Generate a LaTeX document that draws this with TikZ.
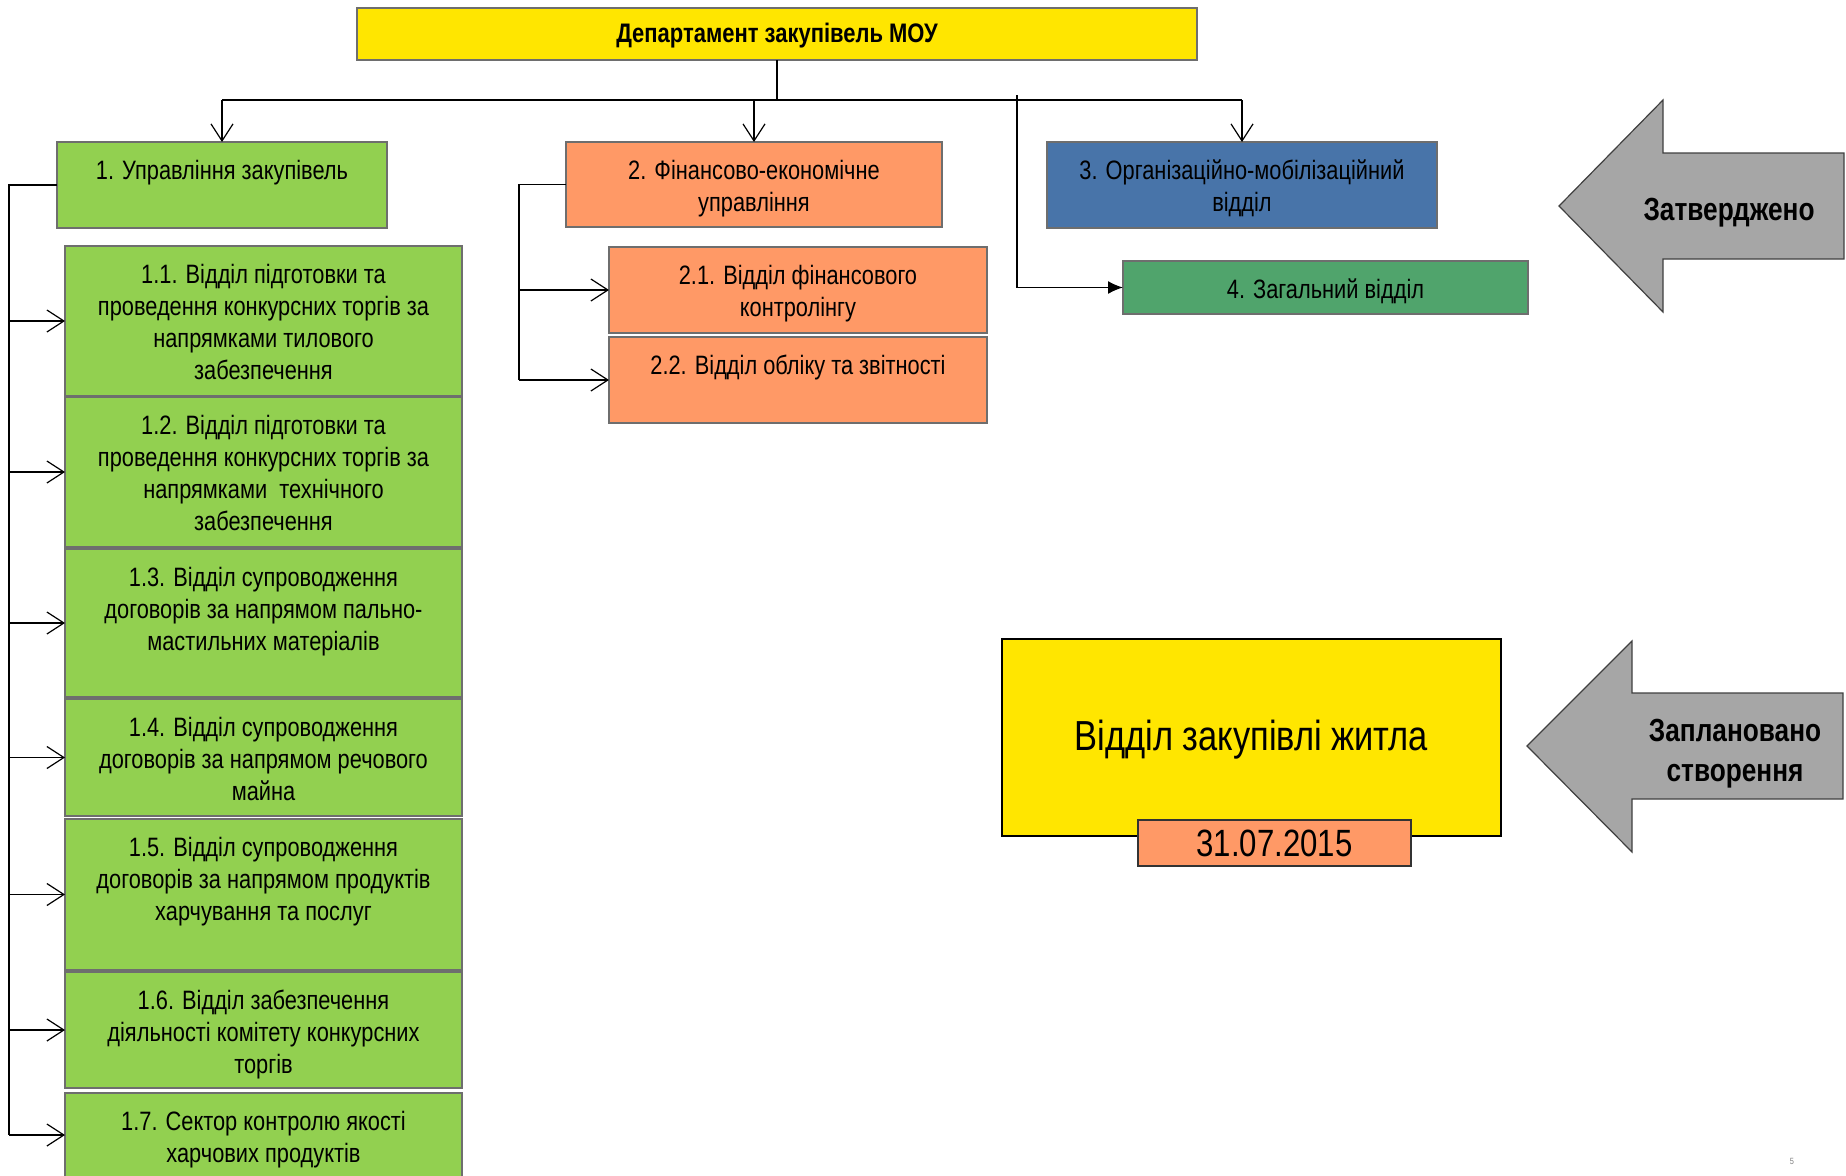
\documentclass[tikz,border=0pt]{standalone}
\usepackage{fontspec}
\setmainfont{Liberation Sans}[FakeStretch=0.82]
\usetikzlibrary{positioning, arrows.meta}

\definecolor{deptyellow}{HTML}{FFE600}
\definecolor{procgreen}{HTML}{92D050}
\definecolor{finorange}{HTML}{FF9966}
\definecolor{orgblue}{HTML}{4874A9}
\definecolor{genergreen}{HTML}{50A46C}
\definecolor{edgegray}{HTML}{6E6E6E}
\definecolor{arrowgray}{HTML}{A6A6A6}
\definecolor{arrowedge}{HTML}{404040}

\newcommand{\unitfont}{\fontsize{26.6}{32}\selectfont}
\newcommand{\deptfont}{\fontsize{26.8}{30}\selectfont\bfseries}
\newcommand{\statusfont}{\fontsize{32}{40}\selectfont\bfseries}

\begin{document}
\begin{tikzpicture}[x=1pt, y=-1pt,
  >={Straight Barb[length=17pt,width=22pt]},
  unit/.style={draw=edgegray, line width=1.5pt, inner sep=0pt, outer sep=0pt},
  intext/.style={anchor=north, align=center, inner sep=0pt, yshift=-18pt, font=\unitfont},
  sub1/.style={unit, fill=procgreen, minimum width=397pt},
  sub2/.style={unit, fill=finorange, minimum width=378pt, minimum height=86pt},
  link/.style={line width=1.2pt},
  status arrow/.style={draw=arrowedge, fill=arrowgray, line width=1.2pt},
  status/.style={font=\statusfont, align=center, inner sep=0pt}]

\useasboundingbox (0,0) rectangle (1846,1175);

% department
\node[unit, fill=deptyellow, minimum width=840pt, minimum height=52pt] (dept) at (777,34) {};
\node[font=\deptfont, inner sep=0pt] (deptname) at (777,36) {Департамент закупівель МОУ};

% first level
\node[unit, fill=procgreen, minimum width=330pt, minimum height=86pt,
  label={[intext]north:1. Управління закупівель}] (u1) at (222,185) {};
\node[unit, fill=finorange, minimum width=376pt, minimum height=85pt,
  label={[intext]north:{2. Фінансово-економічне\\управління}}] (u2) at (754,184.5) {};
\node[unit, fill=orgblue, minimum width=390pt, minimum height=86pt,
  label={[intext]north:{3. Організаційно-мобілізаційний\\відділ}}] (u3) at (1242,185) {};
\node[unit, fill=genergreen, minimum width=405pt, minimum height=53pt,
  label={[intext]north:4. Загальний відділ}] (u4) at (1325.5,287.5) {};

% departments of 1
\node[sub1, minimum height=150pt,
  label={[intext]north:{1.1. Відділ підготовки та\\проведення конкурсних торгів за\\напрямками тилового\\забезпечення}}] (d11) at (263.5,321) {};
\node[sub1, minimum height=150pt, below=1pt of d11,
  label={[intext]north:{1.2. Відділ підготовки та\\проведення конкурсних торгів за\\напрямками\ \ технічного\\забезпечення}}] (d12) {};
\node[sub1, minimum height=148pt, below=2pt of d12,
  label={[intext]north:{1.3. Відділ супроводження\\договорів за напрямом пально-\\мастильних матеріалів}}] (d13) {};
\node[sub1, minimum height=117pt, below=2pt of d13,
  label={[intext]north:{1.4. Відділ супроводження\\договорів за напрямом речового\\майна}}] (d14) {};
\node[sub1, minimum height=151pt, below=3pt of d14,
  label={[intext]north:{1.5. Відділ супроводження\\договорів за напрямом продуктів\\харчування та послуг}}] (d15) {};
\node[sub1, minimum height=116pt, below=2pt of d15,
  label={[intext]north:{1.6. Відділ забезпечення\\діяльності комітету конкурсних\\торгів}}] (d16) {};
\node[sub1, minimum height=84pt, below=5pt of d16,
  label={[intext]north:{1.7. Сектор контролю якості\\харчових продуктів}}] (d17) {};

% departments of 2
\node[sub2, label={[intext]north:{2.1. Відділ фінансового\\контролінгу}}] (d21) at (798,290) {};
\node[sub2, below=4pt of d21, label={[intext]north:2.2. Відділ обліку та звітності}] (d22) {};

% connectors
\coordinate (bar) at (0,100);
\coordinate (tap) at (1017,95);
\coordinate (spine1) at (9,0);
\coordinate (spine2) at (519,0);

\draw[link] (dept.south) -- (dept.south |- bar);
\draw[line width=2pt] (u1.north |- bar) -- (u3.north |- bar);
\foreach \u in {u1,u2,u3}
  \draw[link, ->] (\u.north |- bar) -- (\u.north);
\draw[line width=1.5pt, -{Latex[length=15pt,width=13pt]}] (tap) |- (u4.west);

\draw[line width=2.2pt] (u1.west) -| (spine1 |- d17.west);
\foreach \d in {d11,d12,d13,d14,d15,d16,d17}
  \draw[link, ->] (spine1 |- \d.west) -- (\d.west);

\draw[line width=1.7pt] (u2.west) -| (spine2 |- d22.west);
\foreach \d in {d21,d22}
  \draw[link, ->] (spine2 |- \d.west) -- (\d.west);

% status arrows
\draw[status arrow] (1844,153) -- (1663,153) -- (1663,100) -- (1559,206) -- (1663,312) -- (1663,259) -- (1844,259) -- cycle;
\node[status] (done) at (1729,213) {Затверджено};

\draw[status arrow] (1843,693) -- (1632,693) -- (1632,641) -- (1527,746) -- (1632,852) -- (1632,799) -- (1843,799) -- cycle;
\node[status] (planned) at (1735,754) {Заплановано\\створення};

% planned unit
\node[draw=black, line width=1.6pt, fill=deptyellow, minimum width=499pt, minimum height=197pt] (newunit) at (1251.5,737.5) {};
\node[font=\fontsize{42}{46}\selectfont, inner sep=0pt] (newname) at (1251.5,740) {Відділ закупівлі житла};
\node[draw=black!80, line width=1.4pt, fill=finorange, minimum width=273pt, minimum height=46pt,
  inner sep=0pt, font=\fontsize{38}{40}\selectfont] (date) at (1274.5,843) {31.07.2015};

\node[font=\fontsize{9}{9}\selectfont, text=gray, inner sep=0pt] (page) at (1792,1161) {5};
\end{tikzpicture}
\end{document}
